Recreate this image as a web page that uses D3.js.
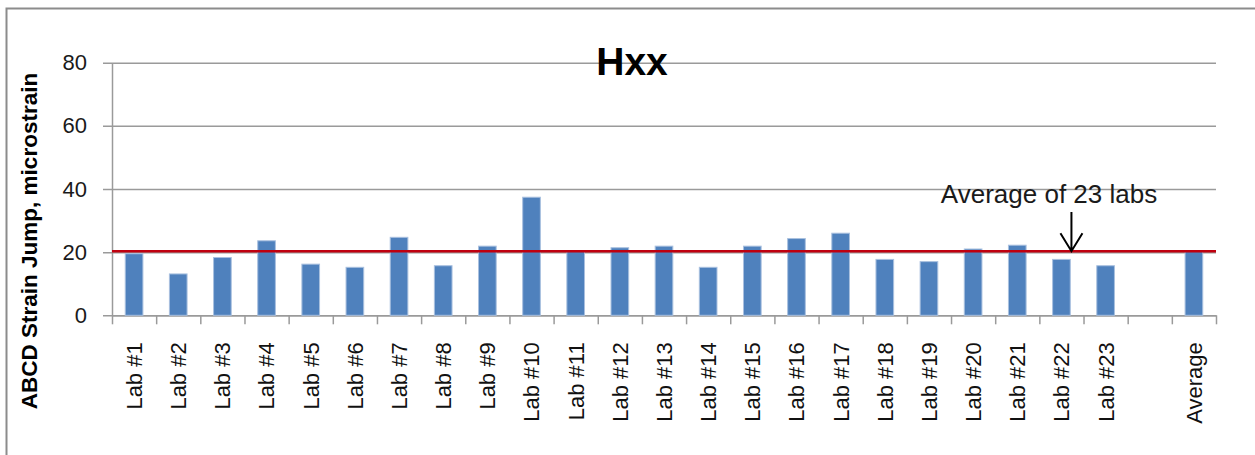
<!DOCTYPE html>
<html>
<head>
  <meta charset="utf-8">
  <title>Hxx</title>
  <script src="https://d3js.org/d3.v7.min.js"></script>
  <style>
    body {
      margin: 0;
      padding: 0;
      background: white;
    }
    svg {
      font-family: "Liberation Sans", Arial, sans-serif;
    }
  </style>
</head>
<body>
<div id="chart"></div>
<script>
  // chart data
  var labNames = ["Lab #1", "Lab #2", "Lab #3", "Lab #4", "Lab #5", "Lab #6", "Lab #7", "Lab #8",
                  "Lab #9", "Lab #10", "Lab #11", "Lab #12", "Lab #13", "Lab #14", "Lab #15", "Lab #16",
                  "Lab #17", "Lab #18", "Lab #19", "Lab #20", "Lab #21", "Lab #22", "Lab #23"];
  var labValues = [19.5, 13.1, 18.3, 23.6, 16.2, 15.2, 24.7, 15.7, 21.9, 37.4, 20.3, 21.4,
                   21.9, 15.2, 21.9, 24.3, 26.0, 17.7, 17.0, 21.0, 22.2, 17.7, 15.7];
  var averageLabel = "Average";
  var averageValue = 20.3;
  var yTicks = [0, 20, 40, 60, 80];
  var titleText = "Hxx";
  var yTitle = "ABCD Strain Jump, microstrain";
  var noteText = "Average of 23 labs";
  var noteLab = "Lab #22";

  // categories: the labs, an empty slot, then the average
  var categories = labNames.concat([" ", averageLabel]);
  var values = labValues.concat([null, averageValue]);
  var rows = categories.map(function(c, i) { return { name: c, value: values[i] }; });

  var width = 1255, height = 455;
  var plotLeft = 112, plotRight = 1216, plotTop = 62.7, plotBottom = 315.3;

  var svg = d3.select("#chart").append("svg")
    .attr("width", width)
    .attr("height", height);

  // outer frame
  svg.append("rect")
    .attr("x", 6.5).attr("y", 8.5)
    .attr("width", width + 20).attr("height", height + 20)
    .attr("fill", "none")
    .attr("stroke", "#8c8c8c")
    .attr("stroke-width", 2);

  var x = d3.scaleBand()
    .domain(categories)
    .range([plotLeft, plotRight])
    .paddingInner(0.6)
    .paddingOuter(0.3);

  var xEdge = d3.scaleLinear()
    .domain([0, categories.length])
    .range([plotLeft, plotRight]);

  var y = d3.scaleLinear()
    .domain([0, 80])
    .range([plotBottom, plotTop]);

  // y axis with gridlines
  svg.append("g")
    .attr("transform", "translate(" + plotLeft + ",0)")
    .call(d3.axisLeft(y).tickValues(yTicks).tickSizeOuter(0))
    .call(function(g) {
      g.select(".domain").attr("stroke", "#9a9a9a").attr("stroke-width", 1.5);
      g.selectAll(".tick line")
        .attr("x1", -9).attr("x2", plotRight - plotLeft)
        .attr("stroke", "#9a9a9a").attr("stroke-width", 1.5);
      g.selectAll(".tick text")
        .attr("x", -25)
        .attr("font-size", 22)
        .attr("fill", "#1a1a1a")
        .attr("font-family", "'Liberation Sans', Arial, sans-serif");
    });

  // x axis: tick marks at category edges
  svg.append("g")
    .attr("transform", "translate(0," + plotBottom + ")")
    .call(d3.axisBottom(xEdge).tickValues(d3.range(categories.length + 1)).tickFormat("").tickSize(9).tickSizeOuter(0))
    .call(function(g) {
      g.select(".domain").attr("stroke", "#9a9a9a").attr("stroke-width", 1.5);
      g.selectAll(".tick line").attr("stroke", "#9a9a9a").attr("stroke-width", 1.5);
    });

  // x axis labels, rotated
  svg.append("g")
    .attr("transform", "translate(0," + plotBottom + ")")
    .call(d3.axisBottom(x).tickSize(0))
    .call(function(g) {
      g.select(".domain").remove();
      g.selectAll(".tick text")
        .attr("transform", "rotate(-90)")
        .attr("x", -27)
        .attr("y", 0)
        .attr("dy", "0.36em")
        .attr("text-anchor", "end")
        .attr("font-size", 22)
        .attr("fill", "#111")
        .attr("font-family", "'Liberation Sans', Arial, sans-serif");
    });

  // bars
  svg.selectAll(".bar")
    .data(rows.filter(function(d) { return d.value !== null; }))
    .enter().append("rect")
      .attr("class", "bar")
      .attr("x", function(d) { return x(d.name); })
      .attr("y", function(d) { return y(d.value); })
      .attr("width", x.bandwidth())
      .attr("height", function(d) { return y(0) - y(d.value); })
      .attr("fill", "#4f81bd")
      .attr("stroke", "#a9c0df")
      .attr("stroke-width", 1);

  // average line
  svg.append("line")
    .attr("x1", plotLeft).attr("x2", plotRight)
    .attr("y1", y(averageValue)).attr("y2", y(averageValue))
    .attr("stroke", "#c0000f")
    .attr("stroke-width", 2.5);

  // title
  svg.append("text")
    .attr("x", 632).attr("y", 75)
    .attr("text-anchor", "middle")
    .attr("font-size", 39)
    .attr("font-weight", "bold")
    .text(titleText);

  // y axis title
  svg.append("text")
    .attr("transform", "translate(29,241) rotate(-90)")
    .attr("dy", "0.36em")
    .attr("text-anchor", "middle")
    .attr("font-size", 22.5)
    .attr("font-weight", "bold")
    .text(yTitle);

  // annotation with arrow
  var ax = x(noteLab) + x.bandwidth() / 2 + 10;
  svg.append("text")
    .attr("x", 1049).attr("y", 203)
    .attr("text-anchor", "middle")
    .attr("font-size", 26)
    .attr("fill", "#1a1a1a")
    .text(noteText);

  var tipY = y(averageValue);
  svg.append("path")
    .attr("d", "M" + ax + "," + 212 + "V" + tipY +
               "M" + (ax - 11) + "," + (tipY - 18) + "L" + ax + "," + tipY + "L" + (ax + 11) + "," + (tipY - 18))
    .attr("fill", "none")
    .attr("stroke", "black")
    .attr("stroke-width", 2);
</script>
</body>
</html>
